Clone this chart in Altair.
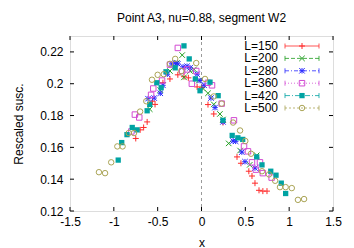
import altair as alt
import pandas as pd

title_text = "Point A3, nu=0.88, segment W2"
series = ["L=150", "L=200", "L=280", "L=360", "L=420", "L=500"]
colors = ["#ff2a2a", "#1f9e1f", "#2a2aff", "#d24ad2", "#00a3a3", "#aaa455"]

x150 = [-0.75, -0.70, -0.66, -0.62, -0.56, -0.53, -0.44, -0.36, -0.27, -0.20, -0.15, -0.05, 0.006, 0.074, 0.14, 0.245, 0.405, 0.45, 0.54, 0.576, 0.61, 0.656, 0.70, 0.747]
y150 = [0.1656, 0.171, 0.1725, 0.176, 0.189, 0.187, 0.2006, 0.203, 0.2056, 0.2044, 0.2037, 0.198, 0.1975, 0.1869, 0.181, 0.1756, 0.154, 0.150, 0.145, 0.142, 0.1375, 0.133, 0.1325, 0.1325]

x200 = [-0.59, -0.47, -0.36, -0.28, -0.22, -0.20, -0.13, -0.085, -0.03, 0.017, 0.074, 0.14, 0.21, 0.245, 0.31, 0.44, 0.55, 0.63]
y200 = [0.184, 0.196, 0.208, 0.213, 0.218, 0.204, 0.208, 0.209, 0.202, 0.197, 0.194, 0.187, 0.181, 0.1775, 0.1625, 0.158, 0.149, 0.155]

x280 = [-0.61, -0.54, -0.47, -0.44, -0.39, -0.34, -0.30, -0.27, -0.21, -0.165, -0.13, -0.05, -0.017, 0.03, 0.108, 0.154, 0.245, 0.36, 0.39, 0.46, 0.496, 0.61]
y280 = [0.1906, 0.191, 0.194, 0.199, 0.206, 0.2125, 0.213, 0.2125, 0.2106, 0.211, 0.21, 0.206, 0.202, 0.199, 0.191, 0.185, 0.176, 0.164, 0.1638, 0.157, 0.151, 0.147]

x360 = [-0.80, -0.76, -0.71, -0.575, -0.55, -0.45, -0.36, -0.27, -0.22, -0.165, -0.11, -0.06, 0.074, 0.12, 0.23, 0.37, 0.485, 0.53, 0.576, 0.62, 0.667, 0.70, 0.80]
y360 = [0.170, 0.1806, 0.1788, 0.193, 0.197, 0.202, 0.212, 0.2225, 0.208, 0.209, 0.200, 0.208, 0.2006, 0.199, 0.1875, 0.177, 0.1606, 0.1575, 0.1506, 0.146, 0.1506, 0.1438, 0.141]

x420 = [-0.95, -0.91, -0.85, -0.79, -0.735, -0.62, -0.59, -0.51, -0.46, -0.405, -0.30, -0.20, -0.14, -0.07, -0.017, 0.097, 0.19, 0.245, 0.35, 0.415, 0.47, 0.63, 0.69, 0.79, 0.85, 0.91, 0.96]
y420 = [0.152, 0.163, 0.168, 0.1725, 0.171, 0.183, 0.187, 0.2006, 0.1975, 0.2075, 0.210, 0.2238, 0.2156, 0.203, 0.1956, 0.201, 0.1925, 0.177, 0.1675, 0.166, 0.165, 0.154, 0.149, 0.145, 0.1425, 0.1375, 0.131]

x500 = [-1.17, -1.10, -1.03, -0.96, -0.90, -0.83, -0.77, -0.70, -0.63, -0.565, -0.50, -0.43, -0.36, -0.30, -0.23, -0.06, 0.04, 0.14, 0.23, 0.36, 0.44, 0.50, 0.565, 0.69, 0.77, 0.84, 0.895, 0.96, 1.03, 1.10, 1.17]
y500 = [0.1444, 0.1438, 0.1506, 0.1606, 0.1606, 0.169, 0.169, 0.1825, 0.189, 0.2025, 0.2056, 0.206, 0.2125, 0.2156, 0.208, 0.213, 0.203, 0.192, 0.1875, 0.1756, 0.1706, 0.164, 0.156, 0.145, 0.143, 0.139, 0.135, 0.135, 0.1344, 0.127, 0.1275]

x_ticks = [-1.5, -1.0, -0.5, 0.0, 0.5, 1.0, 1.5]
y_ticks = [0.12, 0.14, 0.16, 0.18, 0.20, 0.22]

xs_all = [x150, x200, x280, x360, x420, x500]
ys_all = [y150, y200, y280, y360, y420, y500]

PLUS = "M-1,0L1,0M0,-1L0,1"
CROSS = "M-1,-1L1,1M-1,1L1,-1"
STAR = "M-1,0L1,0M0,-1L0,1M-1,-1L1,1M-1,1L1,-1"
shapes = [PLUS, CROSS, STAR, "square", "square", "circle"]
filled = [False, False, False, False, True, False]
sizes = [36, 30, 30, 30, 28, 30]
dashes = [[1, 0], [4, 2], [4, 2, 1, 2], [1, 2], [5, 2, 1, 2], [2, 2]]

W, H = 263, 175
FONT = "Liberation Sans"

xscale = alt.Scale(domain=[-1.5, 1.5], nice=False, zero=False)
yscale = alt.Scale(domain=[0.12, 0.23], nice=False, zero=False)
xaxis = alt.Axis(values=x_ticks, labelExpr="toString(datum.value)", ticks=False, domain=False,
                 grid=False, labelPadding=5, titlePadding=10, labelFontSize=12, titleFontSize=12,
                 labelFont=FONT, titleFont=FONT, labelColor="black", titleColor="black",
                 titleFontWeight="normal", labelFlush=False)
yaxis = alt.Axis(values=y_ticks, labelExpr="toString(datum.value)", ticks=False, domain=False,
                 grid=False, labelPadding=7, titlePadding=14, labelFontSize=12, titleFontSize=12,
                 labelFont=FONT, titleFont=FONT, labelColor="black", titleColor="black",
                 titleFontWeight="normal", labelFlush=False)

def X(f="x"):
    return alt.X(f"{f}:Q", scale=xscale, axis=xaxis, title="x")

def Y(f="y"):
    return alt.Y(f"{f}:Q", scale=yscale, axis=yaxis, title="Rescaled susc.")

layers = []

# zero line
zero_df = pd.DataFrame({"x": [0.0]})
layers.append(alt.Chart(zero_df).mark_rule(color="#9a9a9a", strokeDash=[3, 3], strokeWidth=1).encode(x=X()))

# inward ticks
xt_df = pd.DataFrame({"x": x_ticks})
yt_df = pd.DataFrame({"y": y_ticks})
layers.append(alt.Chart(xt_df).mark_rule(color="black", strokeWidth=1).encode(x=X(), y=alt.value(H), y2=alt.value(H - 4)))
layers.append(alt.Chart(xt_df).mark_rule(color="black", strokeWidth=1).encode(x=X(), y=alt.value(0), y2=alt.value(4)))
layers.append(alt.Chart(yt_df).mark_rule(color="black", strokeWidth=1).encode(y=Y(), x=alt.value(0), x2=alt.value(4)))
layers.append(alt.Chart(yt_df).mark_rule(color="black", strokeWidth=1).encode(y=Y(), x=alt.value(W), x2=alt.value(W - 4)))

# data
for i in range(6):
    df = pd.DataFrame({"x": xs_all[i], "y": ys_all[i]})
    layers.append(alt.Chart(df).mark_point(shape=shapes[i], filled=filled[i], size=sizes[i],
                                           strokeWidth=1, color=colors[i], opacity=1).encode(x=X(), y=Y()))

# legend
for i in range(6):
    ly = 10 + 12.4 * i
    one = pd.DataFrame({"label": [series[i]]})
    layers.append(alt.Chart(one).mark_text(align="right", baseline="middle", fontSize=12, font=FONT,
                                           color="black").encode(text="label:N", x=alt.value(208), y=alt.value(ly)))
    layers.append(alt.Chart(one).mark_rule(color=colors[i], strokeWidth=1, strokeDash=dashes[i], opacity=0.8).encode(
        x=alt.value(215), x2=alt.value(249), y=alt.value(ly)))
    layers.append(alt.Chart(one).mark_rule(color=colors[i], strokeWidth=1, opacity=0.8).encode(
        x=alt.value(215), y=alt.value(ly - 2.5), y2=alt.value(ly + 2.5)))
    layers.append(alt.Chart(one).mark_rule(color=colors[i], strokeWidth=1, opacity=0.8).encode(
        x=alt.value(249), y=alt.value(ly - 2.5), y2=alt.value(ly + 2.5)))
    layers.append(alt.Chart(one).mark_point(shape=shapes[i], filled=filled[i], size=sizes[i], strokeWidth=1,
                                            color=colors[i], opacity=1).encode(x=alt.value(232), y=alt.value(ly)))

chart = alt.layer(*layers).properties(
    width=W, height=H,
    title=alt.TitleParams(title_text, fontSize=12, font=FONT, fontWeight="normal", color="black", offset=11),
    autosize=alt.AutoSizeParams(type="none"),
    padding={"left": 62, "top": 28, "right": 13, "bottom": 37},
).configure_view(stroke="black", strokeWidth=1).configure(background="white")

chart.save("out.html", embed_options={"renderer": "svg", "actions": False})
